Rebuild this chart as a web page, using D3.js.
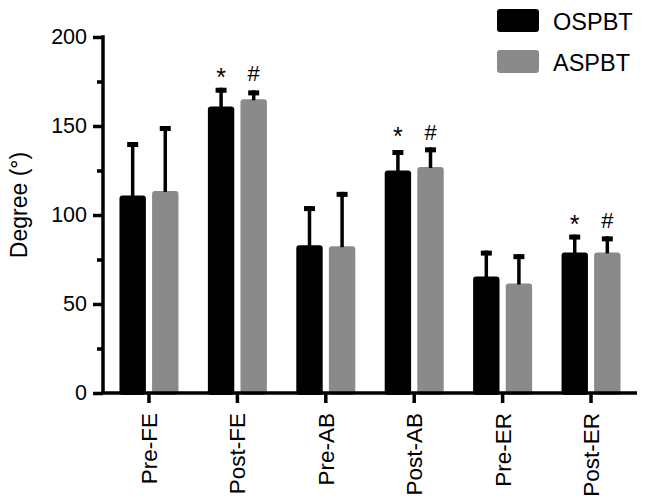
<!DOCTYPE html>
<html>
<head>
<meta charset="utf-8">
<script src="https://cdn.jsdelivr.net/npm/d3@7"></script>
<style>
  html, body { margin: 0; padding: 0; background: #fff; }
  svg { display: block; font-family: "Liberation Sans", Arial, Helvetica, sans-serif; }
</style>
</head>
<body>
<svg id="chart" width="646" height="504"></svg>
<script>
// ---- data ----
const categories = ["Pre-FE", "Post-FE", "Pre-AB", "Post-AB", "Pre-ER", "Post-ER"];
const seriesNames = ["OSPBT", "ASPBT"];
const ospbtMean = [111, 161, 83, 125, 65.5, 79];
const ospbtSD   = [30, 10.5, 22, 11.5, 14.5, 10];
const aspbtMean = [113.5, 165, 82.5, 127, 61.5, 79];
const aspbtSD   = [36.5, 5, 30.5, 11, 16.5, 9];
const ospbtMark = ["", "*", "", "*", "", "*"];
const aspbtMark = ["", "#", "", "#", "", "#"];
const yTicks = [0, 50, 100, 150, 200];
const yMinorTicks = [25, 75, 125, 175];
const yLabel = "Degree (°)";

const colors = { OSPBT: "#000000", ASPBT: "#8a8a8a" };
const FONT = "Liberation Sans, Arial, sans-serif";

const svg = d3.select("#chart");

const x = d3.scaleBand().domain(categories).range([103, 637]).paddingInner(0).paddingOuter(0.02);
const x1 = d3.scaleBand().domain(seriesNames).range([-29.5, 29.5]).paddingInner(0.19);
const y = d3.scaleLinear().domain([0, 200]).range([393, 37]);

const rows = [];
categories.forEach((c, i) => {
  rows.push({ cat: c, s: "OSPBT", mean: ospbtMean[i], sd: ospbtSD[i], mark: ospbtMark[i] });
  rows.push({ cat: c, s: "ASPBT", mean: aspbtMean[i], sd: aspbtSD[i], mark: aspbtMark[i] });
});

const cx = d => x(d.cat) + x.bandwidth() / 2;
const bx = d => cx(d) + x1(d.s) + x1.bandwidth() / 2;

// bars
svg.append("g").selectAll("rect").data(rows).join("rect")
  .attr("x", d => cx(d) + x1(d.s))
  .attr("width", x1.bandwidth())
  .attr("y", d => y(d.mean))
  .attr("height", d => y(0) - y(d.mean) + 2)
  .attr("rx", 3)
  .attr("fill", d => colors[d.s]);

// error bars (upper only)
const eb = svg.append("g");
eb.selectAll("line").data(rows).join("line")
  .attr("x1", bx).attr("x2", bx)
  .attr("y1", d => y(d.mean) + 1)
  .attr("y2", d => y(d.mean + d.sd))
  .attr("stroke", "#000").attr("stroke-width", 3.5);
eb.selectAll("rect").data(rows).join("rect")
  .attr("x", d => bx(d) - 5.5)
  .attr("width", 11)
  .attr("y", d => y(d.mean + d.sd))
  .attr("height", 5)
  .attr("fill", "#000");

// significance marks
const groupTop = {};
rows.forEach(d => {
  const t = y(d.mean + d.sd);
  groupTop[d.cat] = groupTop[d.cat] === undefined ? t : Math.min(groupTop[d.cat], t);
});
svg.append("g").selectAll("text").data(rows.filter(d => d.mark)).join("text")
  .attr("x", bx)
  .attr("y", d => groupTop[d.cat] - 7 + (d.mark === "*" ? 5 : 0))
  .attr("text-anchor", "middle")
  .attr("font-family", FONT)
  .attr("font-size", d => d.mark === "*" ? 25 : 22)
  .attr("fill", "#000")
  .text(d => d.mark);

// y axis
const yAxis = svg.append("g").attr("transform", "translate(103,0)")
  .call(d3.axisLeft(y).tickValues(yTicks).tickSize(10).tickPadding(6).tickSizeOuter(0));
yAxis.select(".domain").attr("stroke-width", 3.5).attr("d", `M0,${y(200) - 1.75}V${y(0)}`);
yAxis.selectAll(".tick line").attr("stroke-width", 3.5);
yAxis.selectAll(".tick text").attr("font-size", 21.5).attr("fill", "#000").attr("font-family", FONT);
const yMinor = svg.append("g").attr("transform", "translate(103,0)")
  .call(d3.axisLeft(y).tickValues(yMinorTicks).tickSize(6).tickFormat(""));
yMinor.select(".domain").remove();
yMinor.selectAll(".tick line").attr("stroke-width", 3.5);

// x axis
const xAxis = svg.append("g").attr("transform", "translate(0,393)")
  .call(d3.axisBottom(x).tickSize(10).tickSizeOuter(0));
xAxis.select(".domain").attr("stroke-width", 3.5).attr("d", `M${103 - 1.75},0H637`);
xAxis.selectAll(".tick line").attr("stroke-width", 3.5);
xAxis.selectAll(".tick text")
  .attr("font-size", 22.5).attr("fill", "#000").attr("font-family", FONT)
  .attr("transform", "rotate(-90)")
  .attr("text-anchor", "end")
  .attr("x", -20).attr("y", 0).attr("dy", "0.36em");

// y label
svg.append("text")
  .attr("transform", "translate(27,205) rotate(-90)")
  .attr("text-anchor", "middle")
  .attr("font-family", FONT)
  .attr("font-size", 23)
  .attr("fill", "#000")
  .text(yLabel);

// legend
const legendY = [9, 50];
const lg = svg.append("g");
seriesNames.forEach((s, i) => {
  lg.append("rect").attr("x", 497).attr("y", legendY[i]).attr("width", 42).attr("height", 23)
    .attr("rx", 3).attr("fill", colors[s]);
  lg.append("text").attr("x", 553).attr("y", legendY[i] + 20.5)
    .attr("font-family", FONT)
    .attr("font-size", 23.5).attr("fill", "#000").text(s);
});
</script>
</body>
</html>
